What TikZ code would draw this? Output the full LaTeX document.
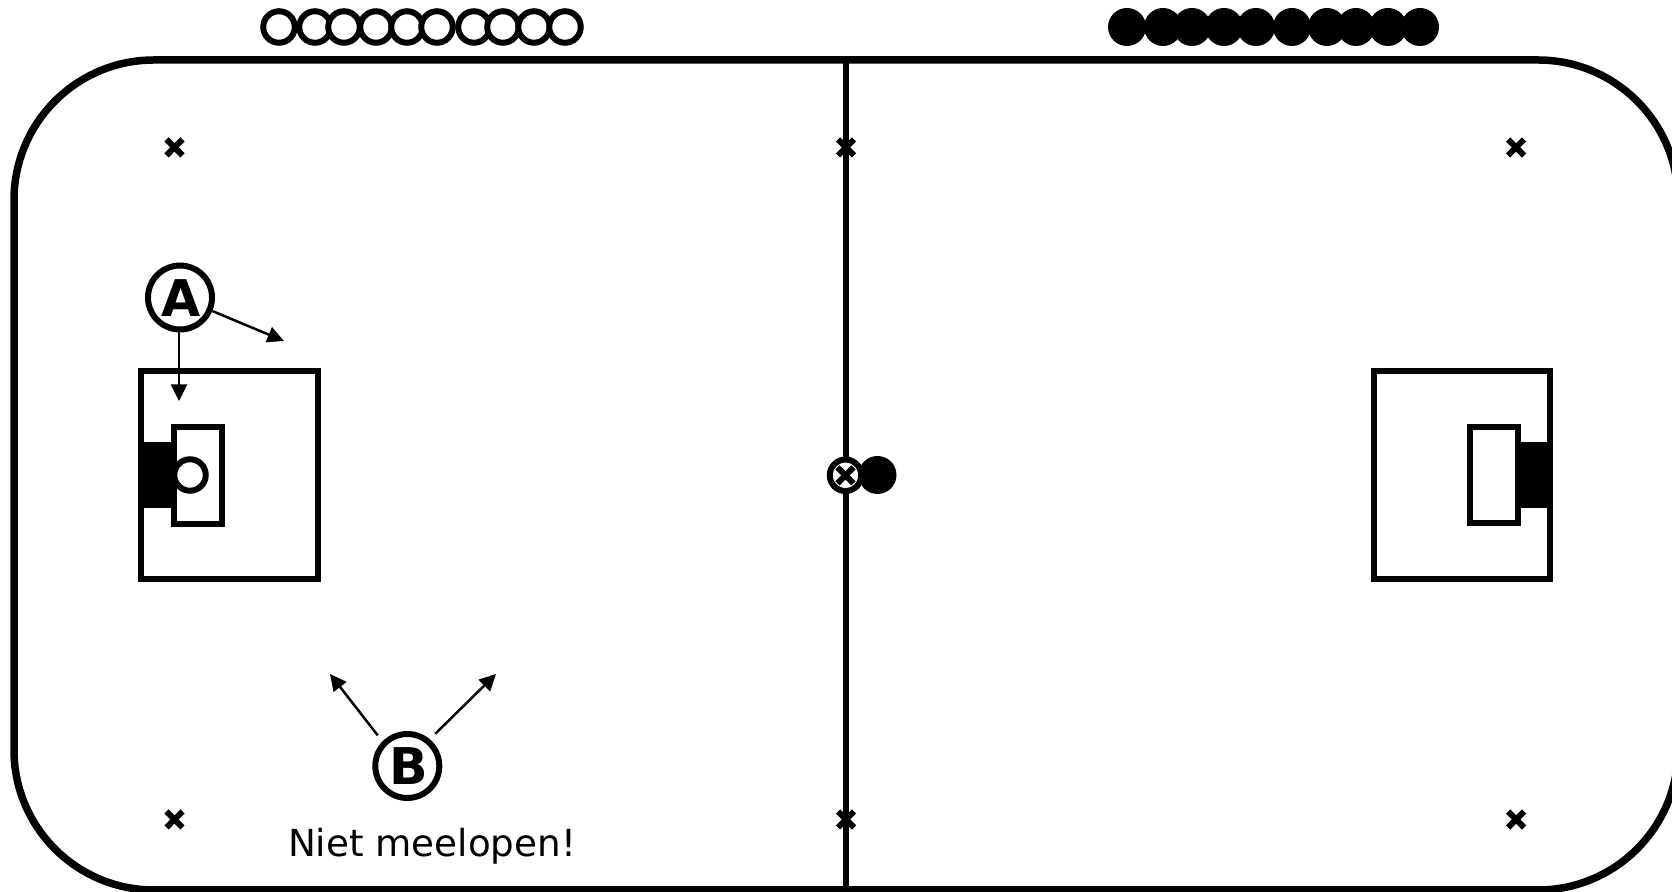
\documentclass[tikz,border=0pt]{standalone}
\usepackage{fontspec}
\setmainfont{DejaVu Sans}
\usepackage{tikz}
\usetikzlibrary{arrows.meta, shapes.misc}

\begin{document}
\begin{tikzpicture}[
  x=0.1mm, y=-0.1mm,
  fieldline/.style={draw=black, line width=0.75mm},
  boxline/.style={draw=black, line width=0.6mm, line join=miter},
  openball/.style={circle, draw=black, fill=white, line width=0.6mm, minimum size=3.15mm, inner sep=0pt},
  fullball/.style={circle, fill=black, minimum size=3.8mm, inner sep=0pt},
  cone/.style={cross out, draw=black, line width=0.6mm, minimum size=1.6mm, inner sep=0pt, outer sep=0pt},
  player/.style={circle, draw=black, fill=white, line width=0.6mm, minimum size=6.4mm, inner sep=0pt,
                 text height=3.8mm, text depth=0pt, execute at begin node={\kern0.3mm},
                 font=\fontsize{14.4}{15}\selectfont\bfseries},
  arr/.style={-{Triangle[length=1.65mm, width=1.6mm]}, line width=0.25mm}
]
  \path[use as bounding box, clip] (0,0) rectangle (1672,892);
  \fill[white] (0,0) rectangle (1672,892);

  % Field
  \draw[fieldline, rounded corners=14mm] (14,60) rectangle (1678,890);
  \draw[draw=black, line width=0.6mm] (846,60) -- (846,892);

  % Substitutes along the top line
  \foreach \xpos [count=\i] in {279,315,344,376,407,437,474,503,534,565}
    \node[openball] (open\i) at (\xpos,27) {};
  \foreach \xpos [count=\i] in {1127,1163,1192,1224,1256,1292,1327,1356,1388,1420}
    \node[fullball] (full\i) at (\xpos,27) {};

  % Corner and centre marks
  \node[cone] (coneTL) at (174.5,147.5) {};
  \node[cone] (coneTM) at (846,147.5) {};
  \node[cone] (coneTR) at (1516,147.5) {};
  \node[cone] (coneBL) at (174.5,819.5) {};
  \node[cone] (coneBM) at (846,819.5) {};
  \node[cone] (coneBR) at (1516,819.5) {};

  % Left goal area
  \draw[boxline] (141,371) rectangle (318,579);
  \fill[black] (141,442) rectangle (173,508);
  \draw[boxline] (173.5,427) rectangle (221.5,524);
  \node[openball] (keeper) at (190,475) {};

  % Right goal area
  \draw[boxline] (1374,371) rectangle (1550,579);
  \fill[black] (1521,442) rectangle (1550,508);
  \draw[boxline] (1470,427) rectangle (1518,523.5);

  % Kick-off
  \node[fullball] (kickball) at (877.5,475) {};
  \node[openball] (kicker) at (845.5,475.3) {};
  \node[cone] (coneC) at (845.5,475.3) {};

  % Player A
  \node[player] (playerA) at (180,297.5) {A};
  \coordinate (tipA1) at (179,401);
  \coordinate (tipA2) at (284,341);
  \draw[arr] (playerA.south -| tipA1) -- (tipA1);
  \draw[arr] (playerA) -- (tipA2);

  % Player B
  \node[player, outer sep=1.05mm] (playerB) at (407.3,766) {B};
  \coordinate (tipB1) at (330,674);
  \coordinate (tipB2) at (496,674);
  \draw[arr] (playerB.134) -- (tipB1);
  \draw[arr] (playerB.49) -- (tipB2);
  \node[anchor=base, font=\fontsize{10.6}{12}\selectfont, inner sep=0pt] (note) at (432,856.5) {Niet meelopen!};
\end{tikzpicture}
\end{document}
